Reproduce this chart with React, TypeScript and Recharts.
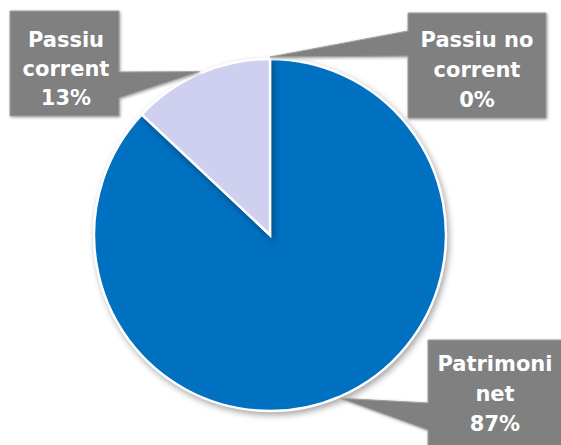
import React from 'react';
import { PieChart, Pie, Cell } from 'recharts';

const categories = ['Passiu no corrent', 'Patrimoni net', 'Passiu corrent'];
const values = [0, 87, 13];
const labelLines = [
  ['Passiu no', 'corrent'],
  ['Patrimoni', 'net'],
  ['Passiu', 'corrent'],
];
const colors = ['#A5A5A5', '#0070C0', '#CFCFEF'];

const data = categories.map((name, i) => ({ name, value: values[i], lines: labelLines[i] }));
const total = values.reduce((a, b) => a + b, 0);

// callout box layout: rect, side of the pointer and its base along that side, text centre and first baseline
const boxes = [
  { x: 408, y: 13, w: 138, h: 105, side: 'left', b1: 31, b2: 56, tx: 477, ty: 47, lh: 30 },
  { x: 428, y: 340, w: 140, h: 120, side: 'left', b1: 403, b2: 430, tx: 495, ty: 371, lh: 30 },
  { x: 10, y: 11, w: 109, h: 105, side: 'right', b1: 72, b2: 98, tx: 66, ty: 47, lh: 29 },
];

const RAD = Math.PI / 180;

const renderLabel = (props: any) => {
  const { cx, cy, midAngle, outerRadius, index, value } = props;
  const b = boxes[index];
  if (!b) return null;
  const r = outerRadius + 2;
  const px = cx + r * Math.cos(-midAngle * RAD);
  const py = cy + r * Math.sin(-midAngle * RAD);
  let d = '';
  if (b.side === 'right') {
    d = `M${b.x},${b.y} L${b.x + b.w},${b.y} L${b.x + b.w},${b.b1} L${px},${py} L${b.x + b.w},${b.b2} L${b.x + b.w},${b.y + b.h} L${b.x},${b.y + b.h} Z`;
  } else {
    d = `M${b.x},${b.y} L${b.x + b.w},${b.y} L${b.x + b.w},${b.y + b.h} L${b.x},${b.y + b.h} L${b.x},${b.b2} L${px},${py} L${b.x},${b.b1} Z`;
  }
  const pct = `${Math.round((value / total) * 100)}%`;
  const lines = [...data[index].lines, pct];
  return (
    <g key={`lbl-${index}`}>
      <path d={d} fill="#808080" stroke="#A0A0A0" strokeWidth={1} style={{ filter: 'drop-shadow(1px 1px 1.5px rgba(0,0,0,0.35))' }} />
      {lines.map((t, i) => (
        <text
          key={i}
          x={b.tx}
          y={b.ty + i * b.lh}
          textAnchor="middle"
          fill="#FFFFFF"
          fontFamily="'DejaVu Sans', sans-serif"
          fontWeight="bold"
          fontSize={21}
        >
          {t}
        </text>
      ))}
    </g>
  );
};

export default function App() {
  return (
    <div style={{ position: 'absolute', left: 0, top: 0, width: 561, height: 445, background: '#FFFFFF' }}>
      <PieChart width={561} height={445} margin={{ top: 0, right: 0, bottom: 0, left: 0 }}>
        <Pie
          data={data}
          dataKey="value"
          nameKey="name"
          cx={270}
          cy={235}
          outerRadius={176}
          startAngle={90}
          endAngle={-270}
          stroke="#FFFFFF"
          strokeWidth={2.5}
          label={renderLabel}
          labelLine={false}
          isAnimationActive={false}
          style={{ filter: 'drop-shadow(2px 3px 3px rgba(0,0,0,0.35))' }}
        >
          {data.map((d, i) => (
            <Cell key={d.name} fill={colors[i]} />
          ))}
        </Pie>
      </PieChart>
    </div>
  );
}
